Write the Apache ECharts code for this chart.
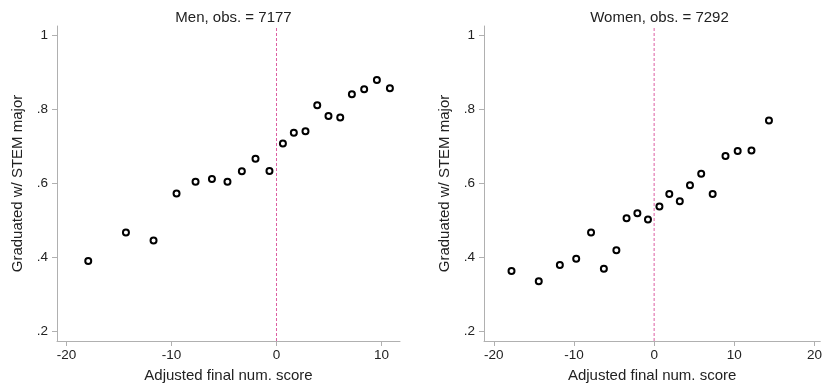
<!DOCTYPE html>
<html>
<head>
<meta charset="utf-8">
<script src="https://cdn.jsdelivr.net/npm/echarts@6/dist/echarts.min.js"></script>
<style>html,body{margin:0;padding:0;background:#fff;}#c{width:825px;height:390px;}</style>
</head>
<body>
<div id="c"></div>
<script>
// Panel titles
const panelTitles = ["Men, obs. = 7177", "Women, obs. = 7292"];
const xAxisTitle = "Adjusted final num. score";
const yAxisTitle = "Graduated w/ STEM major";

// Men: binned scores and shares
const menX = [-17.93, -14.34, -11.71, -9.52, -7.71, -6.15, -4.67, -3.30, -2.00, -0.67,
              0.61, 1.65, 2.76, 3.88, 4.95, 6.07, 7.18, 8.35, 9.56, 10.80];
const menY = [0.390, 0.467, 0.445, 0.572, 0.604, 0.611, 0.604, 0.632, 0.666, 0.633,
              0.707, 0.736, 0.740, 0.810, 0.781, 0.777, 0.840, 0.853, 0.878, 0.856];

// Women: binned scores and shares
const womenX = [-17.79, -14.39, -11.76, -9.72, -7.87, -6.27, -4.71, -3.44, -2.09, -0.77,
                0.66, 1.89, 3.20, 4.47, 5.87, 7.30, 8.90, 10.42, 12.14, 14.32];
const womenY = [0.363, 0.335, 0.379, 0.396, 0.467, 0.369, 0.419, 0.505, 0.519, 0.502,
                0.537, 0.571, 0.551, 0.594, 0.625, 0.571, 0.673, 0.687, 0.688, 0.769];

// Tick values
const yTicks = [0.2, 0.4, 0.6, 0.8, 1];
const menXTicks = [-20, -10, 0, 10];
const womenXTicks = [-20, -10, 0, 10, 20];
const cutoff = 0;
const yRange = [0.174, 1.024];

const FONT = "Liberation Sans, Arial, sans-serif";
const AXIS_COLOR = "#b0b0b0";
const TEXT_COLOR = "#222";
const PINK = "#dd5fa3";

function fmtY(v) {
  let s = String(Math.round(v * 10) / 10);
  if (s.startsWith("0.")) s = s.slice(1);
  return s;
}

const grids = [
  { left: 57, top: 26, width: 343, height: 315 },
  { left: 484, top: 26, width: 341, height: 315 }
];

const xRanges = [[-20.905, 11.762], [-21.22, 20.72]];
const xTickSets = [menXTicks, womenXTicks];
const datasets = [[menX, menY], [womenX, womenY]];

const xAxes = [], yAxes = [], series = [], titles = [];
for (let i = 0; i < 2; i++) {
  xAxes.push({
    type: "value", gridIndex: i, min: xRanges[i][0], max: xRanges[i][1],
    position: "bottom",
    splitLine: { show: false },
    axisLine: { show: true, onZero: false, lineStyle: { color: AXIS_COLOR, width: 1 } },
    axisTick: { show: true, length: 5, lineStyle: { color: AXIS_COLOR }, customValues: xTickSets[i] },
    axisLabel: { show: true, color: TEXT_COLOR, fontFamily: FONT, fontSize: 13.5, margin: 7, customValues: xTickSets[i] },
    name: xAxisTitle, nameLocation: "middle", nameGap: 27,
    nameTextStyle: { color: TEXT_COLOR, fontFamily: FONT, fontSize: 15 }
  });
  yAxes.push({
    type: "value", gridIndex: i, min: yRange[0], max: yRange[1],
    position: "left",
    splitLine: { show: false },
    axisLine: { show: true, onZero: false, lineStyle: { color: AXIS_COLOR, width: 1 } },
    axisTick: { show: true, length: 5, lineStyle: { color: AXIS_COLOR }, customValues: yTicks },
    axisLabel: { show: true, color: TEXT_COLOR, fontFamily: FONT, fontSize: 13.5, margin: 9, customValues: yTicks, formatter: fmtY },
    name: yAxisTitle, nameLocation: "middle", nameGap: 32, nameRotate: 90,
    nameTextStyle: { color: TEXT_COLOR, fontFamily: FONT, fontSize: 15 }
  });
  // dashed cutoff line
  series.push({
    type: "line", xAxisIndex: i, yAxisIndex: i,
    data: [[cutoff, yRange[0]], [cutoff, yRange[1]]],
    symbol: "none", silent: true,
    lineStyle: { color: PINK, type: [3, 2], width: 1 },
    itemStyle: { color: PINK },
    z: 1
  });
  const pts = datasets[i][0].map((x, k) => [x, datasets[i][1][k]]);
  series.push({
    type: "scatter", xAxisIndex: i, yAxisIndex: i, data: pts,
    symbol: "circle", symbolSize: 6,
    itemStyle: { color: "#fff", borderColor: "#000", borderWidth: 2, opacity: 1 },
    emphasis: { disabled: true },
    z: 3
  });
  titles.push({
    text: panelTitles[i],
    left: grids[i].left + grids[i].width / 2, top: 5, textAlign: "center",
    textStyle: { color: TEXT_COLOR, fontFamily: FONT, fontSize: 15, fontWeight: "normal" }
  });
}

const chart = echarts.init(document.getElementById("c"), null, { renderer: "canvas" });
chart.setOption({
  animation: false,
  backgroundColor: "#fff",
  title: titles,
  grid: grids,
  xAxis: xAxes,
  yAxis: yAxes,
  series: series
});
</script>
</body>
</html>
